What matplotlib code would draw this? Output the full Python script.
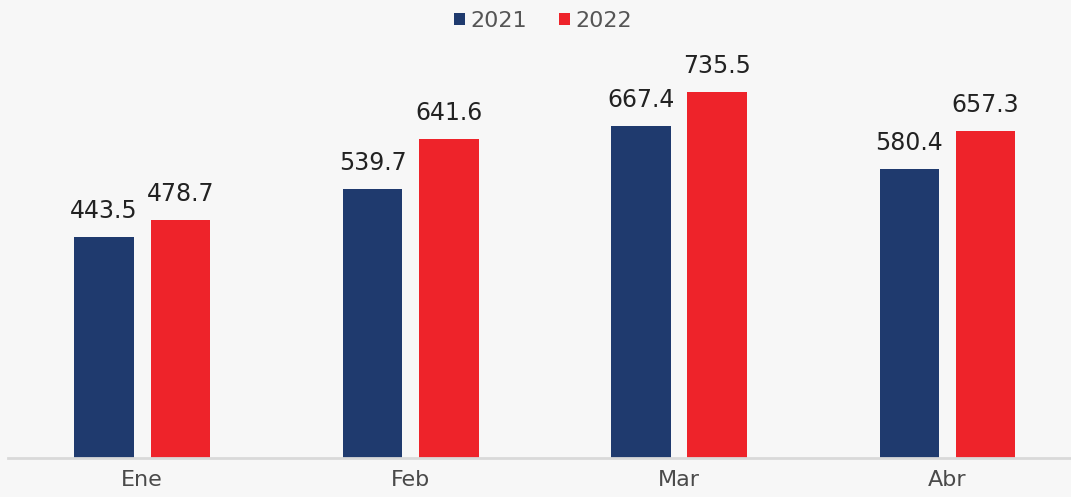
import matplotlib
matplotlib.use("Agg")
import matplotlib.pyplot as plt
import numpy as np
from matplotlib.patches import Patch

months = ["Ene", "Feb", "Mar", "Abr"]
values_2021 = [443.5, 539.7, 667.4, 580.4]
values_2022 = [478.7, 641.6, 735.5, 657.3]
series_names = ["2021", "2022"]

blue = "#1f3a6e"
red = "#ee232a"
bg = "#f7f7f7"

plt.rcParams["font.family"] = ["DejaVu Sans"]

fig = plt.figure(figsize=(10.71, 4.97), dpi=100, facecolor=bg)
ax = fig.add_axes([0.0075, 1 - 458 / 497, 0.9925, 458 / 497])
ax.set_facecolor(bg)

x = np.arange(len(months))
w = 0.222
b1 = ax.bar(x - 0.142, values_2021, width=w, color=blue, label=series_names[0])
b2 = ax.bar(x + 0.142, values_2022, width=w, color=red, label=series_names[1])

for bars in (b1, b2):
    for bar in bars:
        ax.annotate(f"{bar.get_height():.1f}",
                    (bar.get_x() + bar.get_width() / 2, bar.get_height()),
                    xytext=(0, 10), textcoords="offset points",
                    ha="center", va="bottom", fontsize=17, color="#222222")

ax.set_xlim(-0.5, 3.46)
ax.set_ylim(0, 920)
ax.set_xticks(x)
ax.set_xticklabels(months, fontsize=16, color="#4a4a4a", fontweight="medium")
ax.tick_params(axis="x", length=0, pad=9)
ax.set_yticks([])
for s in ["top", "right", "left"]:
    ax.spines[s].set_visible(False)
ax.spines["bottom"].set_color("#d9d9d9")
ax.spines["bottom"].set_linewidth(2)

handles = [Patch(facecolor=blue, label=series_names[0]),
           Patch(facecolor=red, label=series_names[1])]
fig.legend(handles=handles, loc="upper center", bbox_to_anchor=(0.507, 1.018),
           ncol=2, frameon=False, fontsize=16, labelcolor="#555555",
           handlelength=0.5, handleheight=0.5, handletextpad=0.25,
           columnspacing=1.4)

fig.savefig("out.png", dpi=100, facecolor=bg)
